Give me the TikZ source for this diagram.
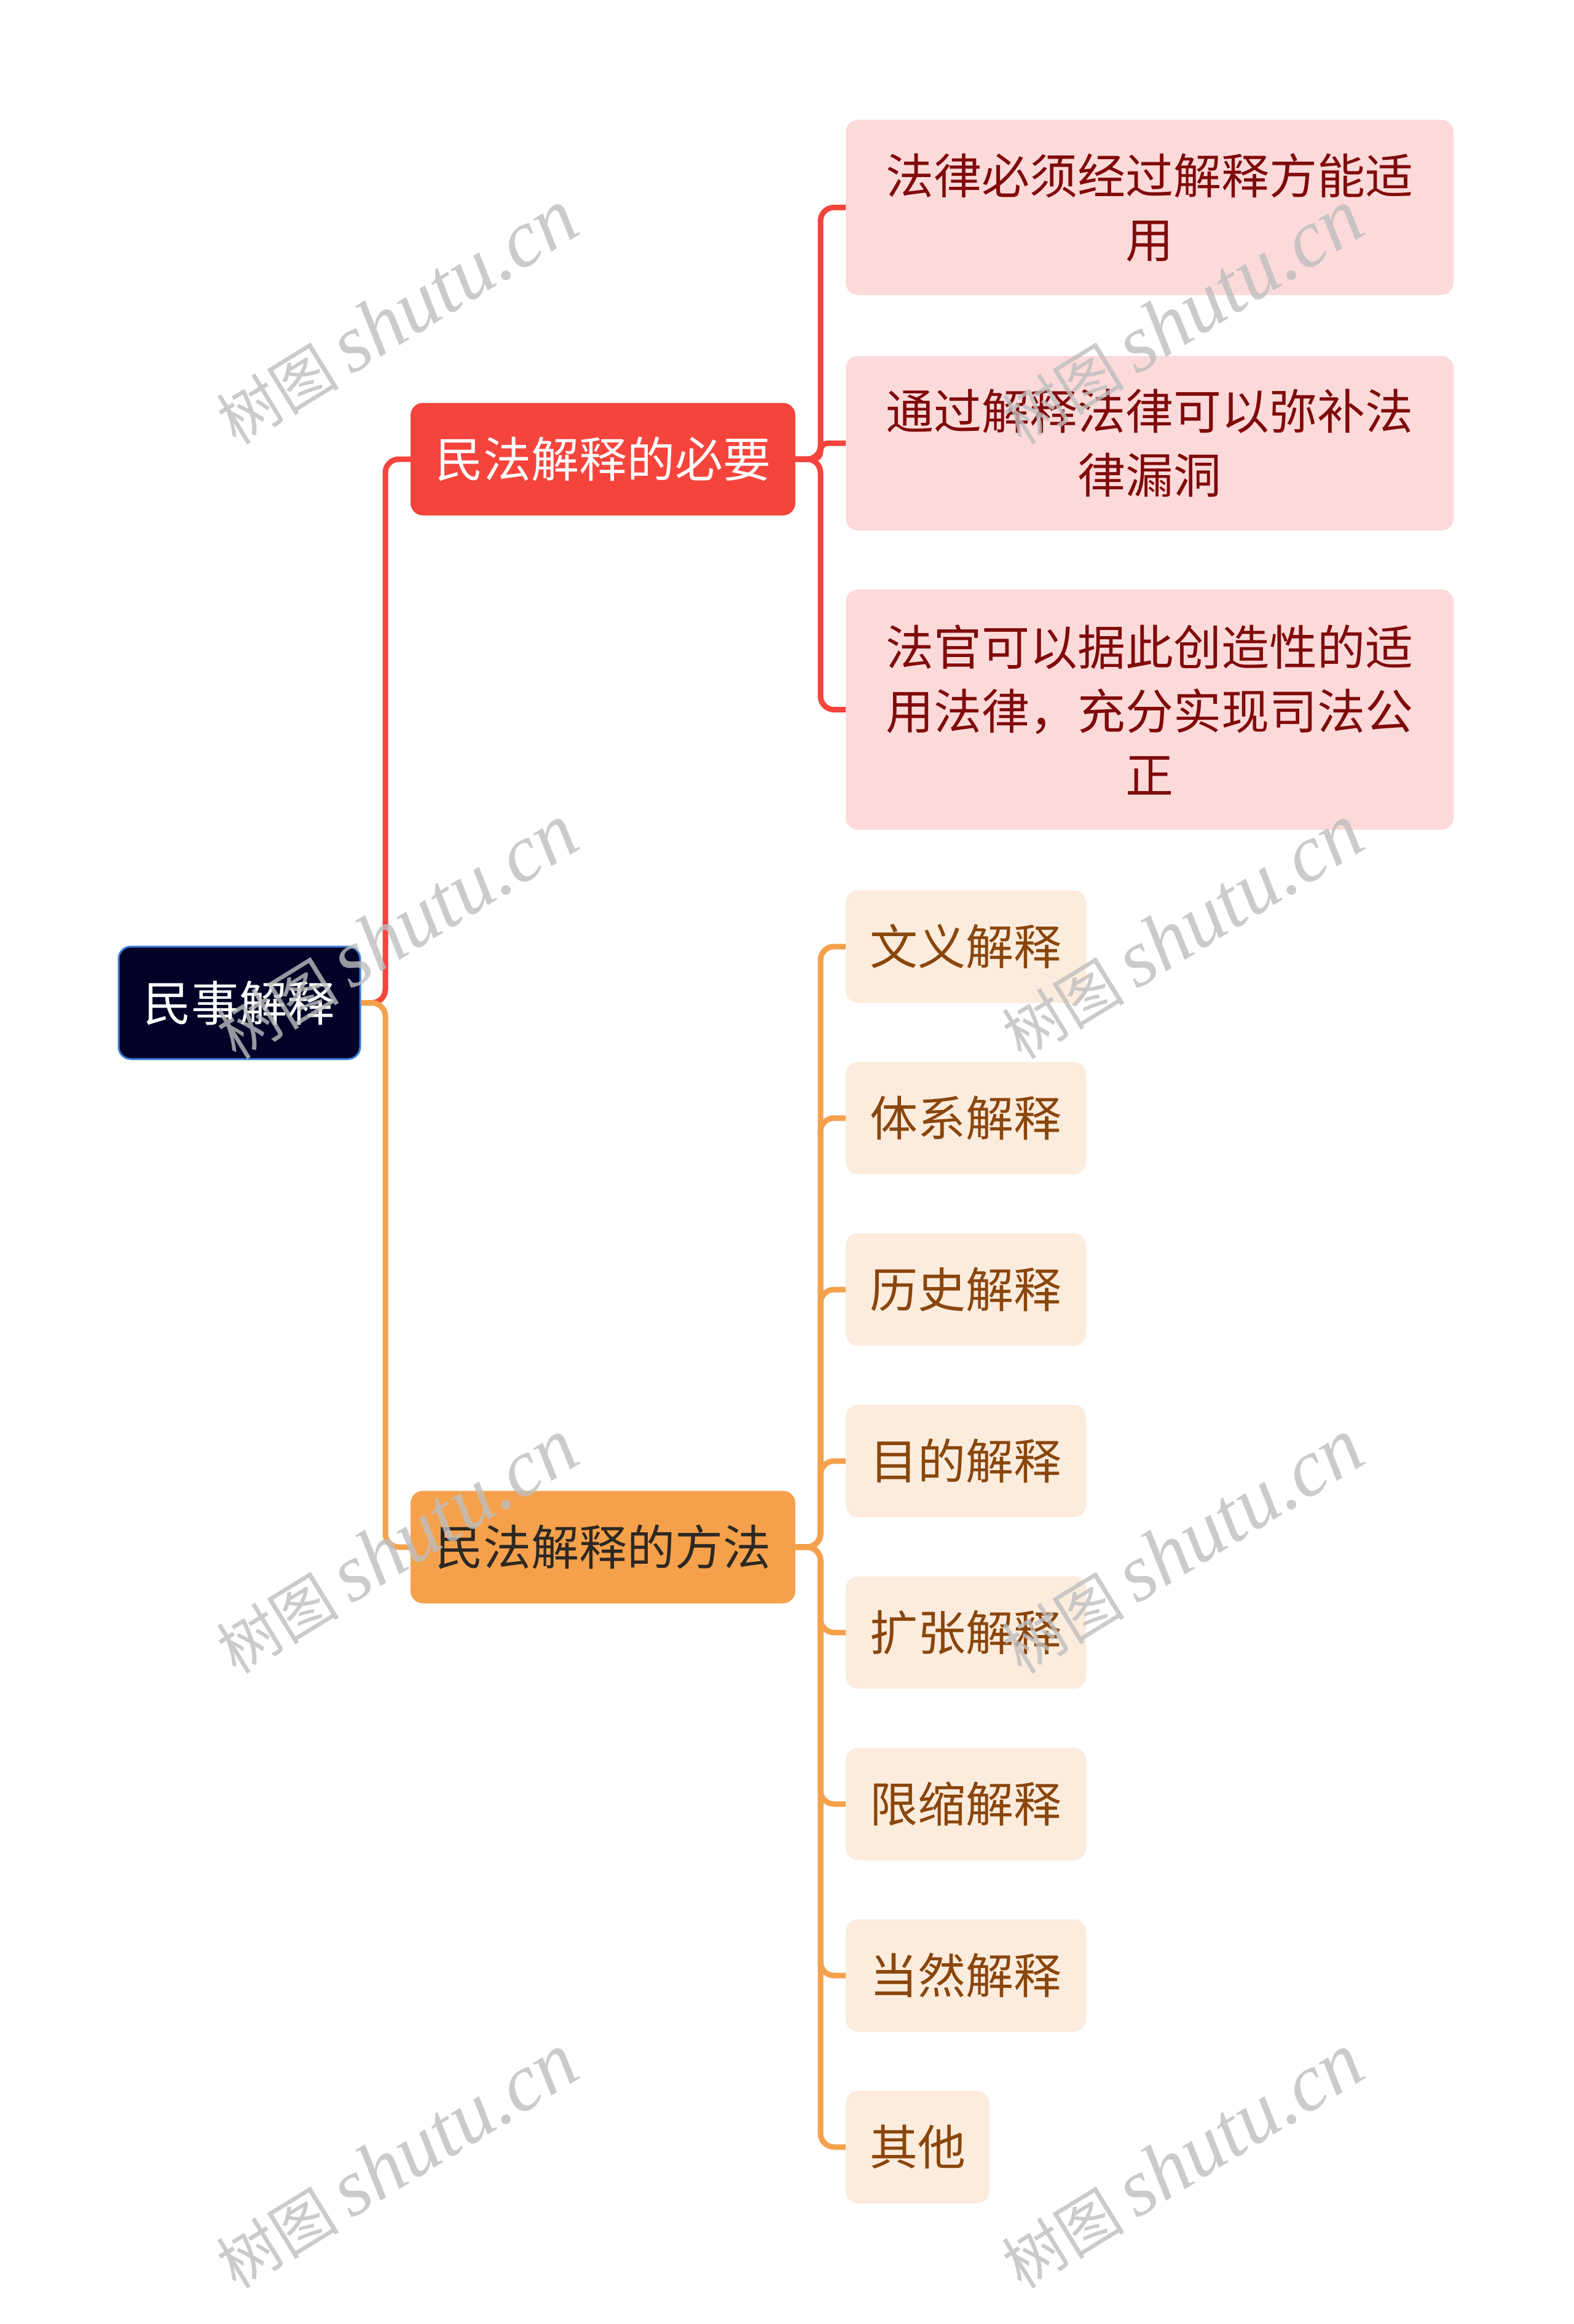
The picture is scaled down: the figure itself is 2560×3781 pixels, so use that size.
\documentclass[tikz,border=0pt]{standalone}
\usepackage{fontspec}
\setmainfont{Noto Sans CJK SC}
\newfontfamily\wmlatin{Liberation Serif}
\newfontfamily\wmcjk{Noto Sans CJK SC}
\definecolor{rootfill}{RGB}{2,2,40}
\definecolor{rootborder}{RGB}{58,125,220}
\definecolor{redmain}{RGB}{245,68,60}
\definecolor{redleaf}{RGB}{253,218,218}
\definecolor{redtext}{RGB}{128,10,10}
\definecolor{orangemain}{RGB}{245,161,75}
\definecolor{orangeleaf}{RGB}{252,236,221}
\definecolor{orangetext}{RGB}{138,70,12}
\definecolor{darktext}{RGB}{45,40,35}
\definecolor{wmgray}{RGB}{190,190,190}
\begin{document}
\begin{tikzpicture}[x=1pt,y=-1pt,
  box/.style={inner sep=0pt, rounded corners=20pt, align=center, font=\fontsize{78}{104}\selectfont},
  rootbox/.style={box, fill=rootfill, draw=rootborder, line width=3pt, text=white, minimum width=393pt, minimum height=183pt},
  redbranch/.style={box, fill=redmain, text=white, minimum width=626pt, minimum height=183pt},
  orangebranch/.style={box, fill=orangemain, text=darktext, minimum width=626pt, minimum height=183pt},
  redleafbox/.style={box, fill=redleaf, text=redtext, minimum width=989pt},
  orangeleafbox/.style={box, fill=orangeleaf, text=orangetext, minimum height=183pt},
  redlink/.style={draw=redmain, line width=9pt, rounded corners=22pt},
  orangelink/.style={draw=orangemain, line width=9pt, rounded corners=22pt},
  wm/.style={text=wmgray, opacity=0.8, rotate=31.6, inner sep=0pt}
]
\useasboundingbox (0,0) rectangle (2560,3781);
\fill[white] (0,0) rectangle (2560,3781);

% nodes
\node[rootbox] (root) at (389.5,1631.5) {民事解释};
\node[redbranch] (b1) at (981,747) {民法解释的必要};
\node[orangebranch] (b2) at (981,2517) {民法解释的方法};

\node[redleafbox, minimum height=285pt] (r1) at (1870.5,337.5) {法律必须经过解释方能适\\用};
\node[redleafbox, minimum height=284pt] (r2) at (1870.5,721) {通过解释法律可以弥补法\\律漏洞};
\node[redleafbox, minimum height=391pt] (r3) at (1870.5,1154.5) {法官可以据此创造性的适\\用法律，充分实现司法公\\正};

\node[orangeleafbox, minimum width=391pt] (o1) at (1571.5,1540) {文义解释};
\node[orangeleafbox, minimum width=391pt] (o2) at (1571.5,1819) {体系解释};
\node[orangeleafbox, minimum width=391pt] (o3) at (1571.5,2098) {历史解释};
\node[orangeleafbox, minimum width=391pt] (o4) at (1571.5,2377) {目的解释};
\node[orangeleafbox, minimum width=391pt] (o5) at (1571.5,2656) {扩张解释};
\node[orangeleafbox, minimum width=391pt] (o6) at (1571.5,2935) {限缩解释};
\node[orangeleafbox, minimum width=391pt] (o7) at (1571.5,3214) {当然解释};
\node[orangeleafbox, minimum width=234pt] (o8) at (1493,3493) {其他};

% connectors
\draw[redlink] (root.east) -- (627,1631.5) |- (b1.west);
\draw[orangelink] (root.east) -- (627,1631.5) |- (b2.west);

\draw[redlink] (b1.east) -- (1335,747) |- (r1.west);
\draw[redlink, rounded corners=12pt] (b1.east) -- (1335,747) |- (r2.west);
\draw[redlink] (b1.east) -- (1335,747) |- (r3.west);

\foreach \o in {o1,o2,o3,o4,o5,o6,o7,o8}{
  \draw[orangelink] (b2.east) -- (1335,2517) |- (\o.west);
}

% watermarks
\foreach \wx in {645,1923}{
  \foreach \wy in {516,1516,2516,3516}{
    \node[wm] at (\wx,\wy) {\wmcjk\fontsize{100}{100}\selectfont 树图\hspace{20pt}\wmlatin\itshape\fontsize{132}{132}\selectfont shutu.cn};
  }
}
\end{tikzpicture}
\end{document}
